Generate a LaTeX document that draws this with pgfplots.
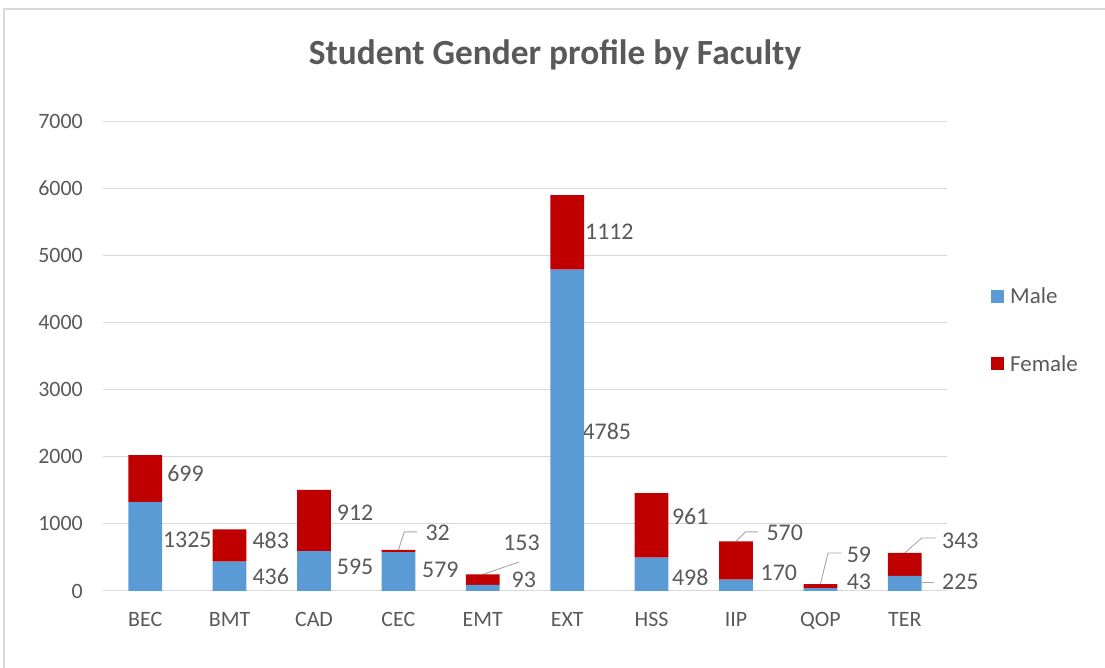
\documentclass[border=0pt]{standalone}
\usepackage{fontspec}
\setmainfont{Carlito}
\usepackage{pgfplots}
\pgfplotsset{compat=1.18}

\definecolor{male}{HTML}{5B9BD5}
\definecolor{female}{HTML}{C00000}
\definecolor{txt}{HTML}{595959}
\definecolor{gridc}{HTML}{D9D9D9}
\definecolor{leadc}{HTML}{A6A6A6}
\tikzset{
  dl/.style={font=\fontsize{24}{28}\selectfont, text=txt, anchor=west, inner sep=0pt},
  ld/.style={leadc, line width=0.9bp},
  lg/.style={font=\fontsize{23}{27}\selectfont, text=txt, anchor=west, inner sep=0pt},
}

\begin{document}
\begin{tikzpicture}
\useasboundingbox (0bp,0bp) rectangle (1105bp,668bp);
% outer chart frame
\draw[gridc, line width=1.2bp] (4bp,0bp) -- (4bp,659bp) -- (1105bp,659bp);
\node[font=\fontsize{35.5}{40}\selectfont\bfseries, text=txt] at (555bp,613bp) {Student Gender profile by Faculty};

\begin{axis}[
  at={(103bp,77bp)}, anchor=south west,
  scale only axis, width=844bp, height=470bp,
  ybar stacked, bar width=0.4,
  xmin=-0.5, xmax=9.5, ymin=0, ymax=7000,
  xtick={0,...,9},
  xticklabels={BEC,BMT,CAD,CEC,EMT,EXT,HSS,IIP,QOP,TER},
  ytick={0,1000,2000,3000,4000,5000,6000,7000},
  yticklabels={0,1000,2000,3000,4000,5000,6000,7000},
  ymajorgrids, grid style={draw=gridc, line width=1bp},
  axis line style={draw=none}, major tick length=0,
  tick label style={font=\fontsize{22}{26}\selectfont, text=txt},
  yticklabel style={anchor=east, inner sep=0pt, xshift=-20bp},
  xticklabel style={anchor=north, inner sep=0pt, yshift=-21bp},
  clip=false,
]
\addplot[fill=male, draw=none] coordinates {
  (0,1325) (1,436) (2,595) (3,579) (4,93) (5,4785) (6,498) (7,170) (8,43) (9,225)
};
\addplot[fill=female, draw=none] coordinates {
  (0,699) (1,483) (2,912) (3,32) (4,153) (5,1112) (6,961) (7,570) (8,59) (9,343)
};

% leader lines
\draw[ld] (axis cs:3.0,611) -- (axis cs:3.07,880) -- (axis cs:3.22,880);
\draw[ld] (axis cs:4.0,246) -- (axis cs:4.43,432);
\draw[ld] (axis cs:7.0,740) -- (axis cs:7.11,880) -- (axis cs:7.26,880);
\draw[ld] (axis cs:8.0,102) -- (axis cs:8.09,566) -- (axis cs:8.25,566);
\draw[ld] (axis cs:9.0,568) -- (axis cs:9.2,790) -- (axis cs:9.37,790);
\draw[ld] (axis cs:9.2,134) -- (axis cs:9.35,134);

% data labels
\node[dl] at (axis cs:0.21,760) {1325};
\node[dl] at (axis cs:0.26,1744) {699};
\node[dl] at (axis cs:1.27,209) {436};
\node[dl] at (axis cs:1.27,760) {483};
\node[dl] at (axis cs:2.27,358) {595};
\node[dl] at (axis cs:2.27,1162) {912};
\node[dl] at (axis cs:3.28,313) {579};
\node[dl] at (axis cs:3.32,864) {32};
\node[dl] at (axis cs:4.34,164) {93};
\node[dl] at (axis cs:4.24,715) {153};
\node[dl] at (axis cs:5.18,2370) {4785};
\node[dl] at (axis cs:5.21,5350) {1112};
\node[dl] at (axis cs:6.24,209) {498};
\node[dl] at (axis cs:6.24,1103) {961};
\node[dl] at (axis cs:7.29,268) {170};
\node[dl] at (axis cs:7.36,864) {570};
\node[dl] at (axis cs:8.31,134) {43};
\node[dl] at (axis cs:8.31,536) {59};
\node[dl] at (axis cs:9.44,134) {225};
\node[dl] at (axis cs:9.44,745) {343};
\end{axis}

% legend
\fill[male] (991bp,365bp) rectangle (1004bp,378bp);
\node[lg] at (1010bp,372bp) {Male};
\fill[female] (991bp,298bp) rectangle (1004bp,311bp);
\node[lg] at (1010bp,304bp) {Female};
\end{tikzpicture}
\end{document}
